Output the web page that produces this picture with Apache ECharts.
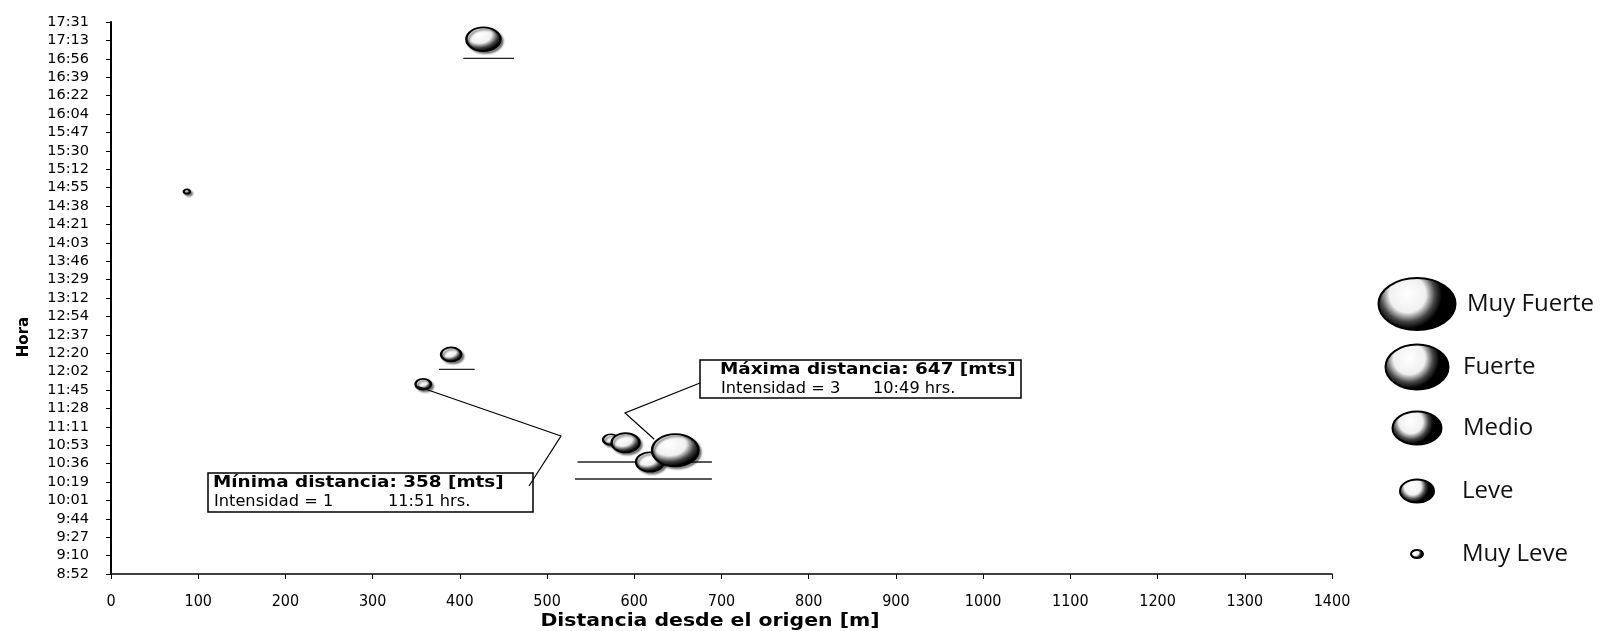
<!DOCTYPE html>
<html><head><meta charset="utf-8">
<script src="https://cdn.jsdelivr.net/npm/echarts@6/dist/echarts.min.js"></script>
<style>html,body{margin:0;padding:0;background:#fff}#c{width:1602px;height:631px}</style>
</head><body><div id="c"></div>
<script>
// ---- data ----
const yTickLabels = ['8:52','9:10','9:27','9:44','10:01','10:19','10:36','10:53','11:11','11:28','11:45',
  '12:02','12:20','12:37','12:54','13:12','13:29','13:46','14:03','14:21','14:38','14:55','15:12',
  '15:30','15:47','16:04','16:22','16:39','16:56','17:13','17:31'];
const levels = ['Muy Leve','Leve','Medio','Fuerte','Muy Fuerte'];
const distances   = [427, 390, 358, 87, 573, 590, 618, 647];
const times       = ['17:15','12:19','11:51','14:52','10:59','10:56','10:38','10:49'];
const intensities = [2.2, 1.3, 1.0, 0.4, 1.0, 1.8, 1.8, 3.0];
// faint horizontal strokes visible under some bubbles: [from m, to m, time]
const hLines = [[404, 462, '16:57'], [376, 417, '12:05'], [535, 689, '10:38'], [532, 689, '10:22']];
const annMax = {title:'Máxima distancia: 647 [mts]', left:'Intensidad = 3', right:'10:49 hrs.', idx:7};
const annMin = {title:'Mínima distancia: 358 [mts]', left:'Intensidad = 1', right:'11:51 hrs.', idx:2};

// ---- helpers ----
const Y0 = 532.8, YSTEP = 17.28; // minutes at axis start, minutes per tick
function toUnit(t){const p=t.split(':');return (parseInt(p[0])*60+parseInt(p[1])-Y0)/YSTEP;}
const ELL = 'path://M0,50 A50,50 0 1,1 100,50 A50,50 0 1,1 0,50 Z';
const bubbleFill = {type:'radial',x:0.38,y:0.32,r:0.75,colorStops:[
  {offset:0,color:'#ffffff'},{offset:0.45,color:'#f0f0f0'},{offset:0.68,color:'#444'},{offset:0.85,color:'#000'},{offset:1,color:'#000'}]};
const FONT = '"DejaVu Sans", Verdana, sans-serif';

const points = distances.map((d,i)=>[d, toUnit(times[i]), intensities[i], levels[Math.round(intensities[i])]]);

const series = levels.map(name=>({
  name, type:'scatter', symbol: ELL, symbolKeepAspect:false,
  symbolSize: v => [15.5*v[2], 10.8*v[2]],
  itemStyle:{color:bubbleFill, borderColor:'#000', borderWidth:2,
    shadowColor:'rgba(0,0,0,0.45)', shadowBlur:2, shadowOffsetX:2, shadowOffsetY:2, opacity:1},
  emphasis:{disabled:true}, z:3,
  data: points.filter(p=>p[3]===name).map(p=>[p[0],p[1],p[2]])
}));
series.unshift({
  type:'custom', name:'strokes', silent:true, z:1,
  renderItem:(params, api)=>{
    const a = api.coord([api.value(0), api.value(2)]);
    const b = api.coord([api.value(1), api.value(2)]);
    return {type:'line', shape:{x1:a[0], y1:a[1], x2:b[0], y2:b[1]}, style:{stroke:'#222', lineWidth:1.3}};
  },
  data: hLines.map(l=>[l[0], l[1], toUnit(l[2])])
});

// legend layout (one legend component per entry, top to bottom)
const legendOrder = ['Muy Fuerte','Fuerte','Medio','Leve','Muy Leve'];
const legIcon = {'Muy Fuerte':[77,52,303,1466],'Fuerte':[63,45,366,1462],'Medio':[49,33,427,1462],'Leve':[34,23,491,1461],'Muy Leve':[12,8,554,1461]};
const legends = legendOrder.map(n=>{
  const [w,h,cy,textX]=legIcon[n]; const cx=1416; const lh=28;
  const left=cx-w/2;
  return {data:[{name:n}], left:left, top:cy-Math.max(h,lh)/2, padding:0, icon:ELL, symbolKeepAspect:false,
    itemWidth:w, itemHeight:h, itemGap:0, selectedMode:false,
    textStyle:{fontFamily:'"Open Sans", sans-serif', fontSize:24, color:'#111', lineHeight:lh,
      padding:[0,0,0,textX-(left+w+5)]}};
});

const chart = echarts.init(document.getElementById('c'), null, {renderer:'canvas'});
chart.setOption({
  animation:false,
  backgroundColor:'#fff',
  grid:{left:111, right:270, top:22, bottom:57, containLabel:false, outerBoundsMode:'none'},
  legend: legends,
  xAxis:{type:'value', min:0, max:1400, interval:100,
    axisLine:{show:true, lineStyle:{color:'#000', width:1.5}},
    axisTick:{show:true, inside:false, length:5, lineStyle:{color:'#000'}},
    axisLabel:{fontFamily:'"DejaVu Sans Condensed", "DejaVu Sans", sans-serif', fontSize:16, color:'#000', margin:20,
      formatter: v => String(v)},
    splitLine:{show:false}},
  yAxis:{type:'value', min:0, max:30, interval:1,
    axisLine:{show:true, lineStyle:{color:'#000', width:2}},
    axisTick:{show:true, inside:false, length:5, lineStyle:{color:'#000'}},
    axisLabel:{fontFamily:FONT, fontSize:14.5, color:'#000', margin:22,
      formatter: v => yTickLabels[Math.round(v)]},
    splitLine:{show:false}},
  series
});

// annotations
function pix(i){return chart.convertToPixel({gridIndex:0},[points[i][0],points[i][1]]);}
const pMax = pix(annMax.idx), pMin = pix(annMin.idx);
function box(a, x, y, w, h, pad, rightX){
  return [
    {type:'rect', shape:{x, y, width:w, height:h}, style:{fill:'#fff', stroke:'#000', lineWidth:1.5}, z:10},
    {type:'text', x:x+pad, y:y+10, scaleX:1.15, style:{text:a.title, font:'bold 16px '+FONT, fill:'#000', verticalAlign:'middle'}, z:11},
    {type:'text', x:x+pad+1, y:y+29, scaleX:1.08, style:{text:a.left, font:'15px '+FONT, fill:'#000', verticalAlign:'middle'}, z:11},
    {type:'text', x:rightX, y:y+29, scaleX:1.08, style:{text:a.right, font:'15px '+FONT, fill:'#000', verticalAlign:'middle'}, z:11}
  ];
}
const graphics = [].concat(
  [{type:'polyline', shape:{points:[[700,383],[625,413],[pMax[0]-21,pMax[1]-11]]}, style:{stroke:'#000', lineWidth:1.2, fill:null}, z:9},
   {type:'polyline', shape:{points:[[pMin[0]-6,pMin[1]+2],[561,436],[529,486]]}, style:{stroke:'#000', lineWidth:1.2, fill:null}, z:12}],
  box(annMax, 700, 360, 321, 38, 20, 873),
  box(annMin, 208, 473, 325, 39, 5, 388),
  [{type:'text', x:24, y:337, rotation:Math.PI/2, style:{text:'Hora', font:'bold 15px '+FONT, fill:'#000', align:'center', verticalAlign:'middle'}},
   {type:'text', x:710, y:622, scaleX:1.2, style:{text:'Distancia desde el origen [m]', font:'bold 17px '+FONT, fill:'#000', align:'center', verticalAlign:'middle'}}]
);
chart.setOption({graphic: graphics});
</script></body></html>
